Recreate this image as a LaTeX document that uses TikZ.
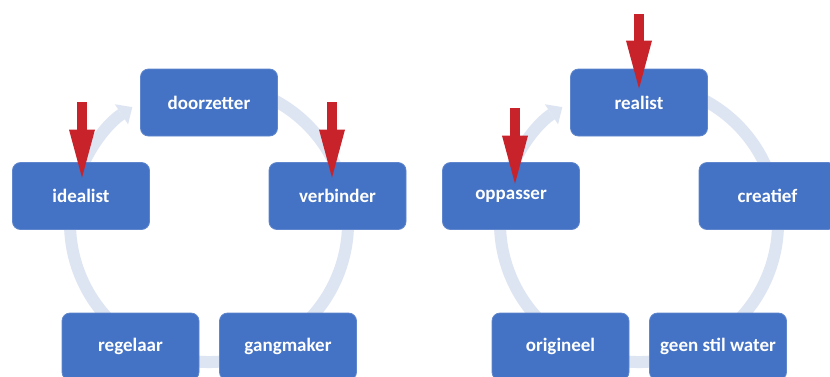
\documentclass[tikz,border=0pt]{standalone}
\usepackage{fontspec}
\setmainfont{Carlito}
\usetikzlibrary{arrows.meta}
\definecolor{boxblue}{HTML}{4472C4}
\definecolor{ringblue}{HTML}{DDE4F2}
\definecolor{arrred}{HTML}{C8232B}
\begin{document}
\begin{tikzpicture}[x=1pt,y=-1pt,
  box/.style={rectangle, rounded corners=8pt, fill=boxblue, draw=boxblue!85!white, line width=0.8pt,
    minimum width=137pt, minimum height=67pt, inner sep=0pt, text=white,
    font=\bfseries\fontsize{19}{21}\selectfont},
  ring/.style={draw=ringblue, line width=12pt},
  ringarrow/.style={ring, -{Triangle[width=24pt,length=13pt,line width=0pt]}},
  redarrow/.style={draw=arrred, line width=10pt, -{Triangle[width=26pt,length=48pt,line width=0pt]}}]
\clip (0,0) rectangle (830,376);
\fill[white] (0,0) rectangle (830,376);
% ring centres
\coordinate (c1) at (209,223);
\coordinate (c2) at (639,223);
% rings
\draw[ringarrow] (c1) ++(200:139) arc[start angle=200, end angle=236.5, radius=139];
\draw[ring] (c1) ++(245:139) arc[start angle=245, end angle=555, radius=139];
\draw[ringarrow] (c2) ++(200:139) arc[start angle=200, end angle=236.5, radius=139];
\draw[ring] (c2) ++(245:139) arc[start angle=245, end angle=555, radius=139];
% left cycle
\node[box] (doorzetter) at (209,102.5) {doorzetter};
\node[box] (idealist) at (81,196) {idealist};
\node[box] (verbinder) at (337.5,196) {verbinder};
\node[box] (regelaar) at (130.5,346.5) {regelaar};
\node[box] (gangmaker) at (288,346.5) {gangmaker};
% right cycle
\node[box] (realist) at (639,102.5) {realist};
\node[box] (oppasser) at (511,196) {oppasser};
\node[box] (creatief) at (767.5,196) {creatief};
\node[box] (origineel) at (560.5,346.5) {origineel};
\node[box] (geenstil) at (718,346.5) {geen stil water};
% red arrows
\coordinate (r1) at (82,102);
\coordinate (r2) at (332,102);
\coordinate (r3) at (639,14);
\coordinate (r4) at (515,108);
\draw[redarrow] (r1) -- ([xshift=1pt,yshift=-15.5pt]idealist.north);
\draw[redarrow] (r2) -- ([xshift=-5.5pt,yshift=-15.5pt]verbinder.north);
\draw[redarrow] (r3) -- ([yshift=-20pt]realist.north);
\draw[redarrow] (r4) -- ([xshift=4pt,yshift=-21.5pt]oppasser.north);
\end{tikzpicture}
\end{document}
